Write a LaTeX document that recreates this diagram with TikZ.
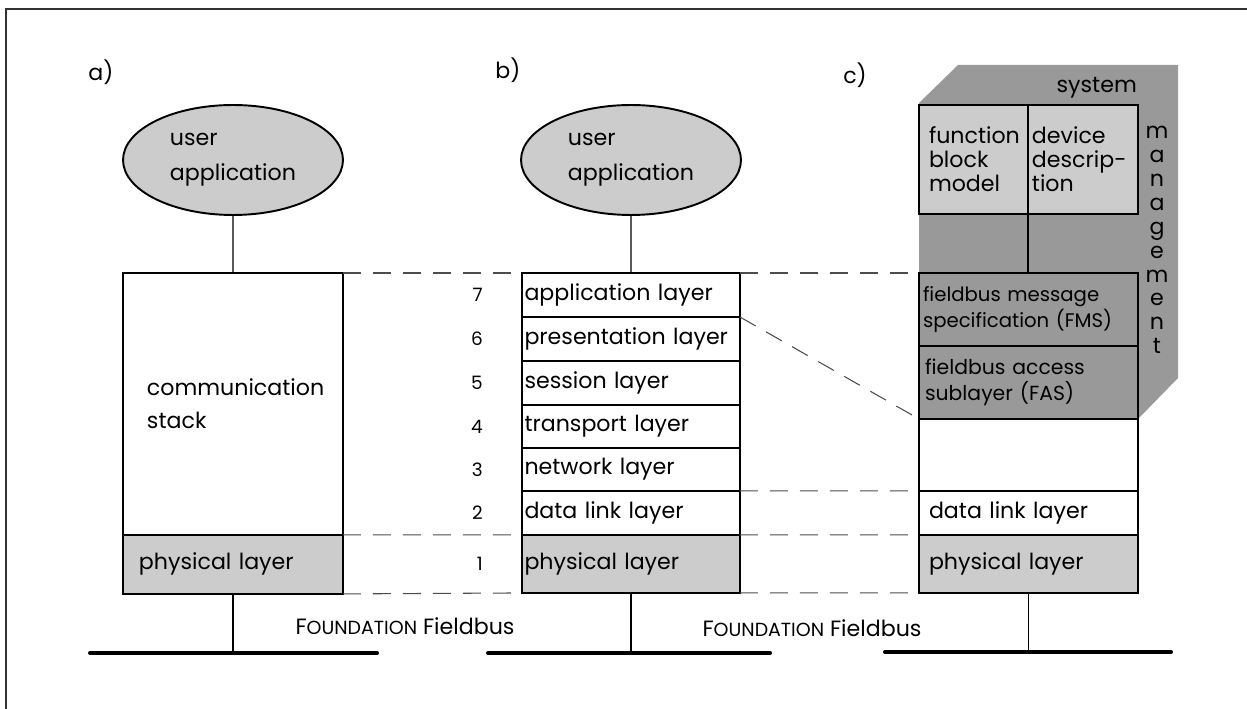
\documentclass[tikz,border=0pt]{standalone}
\usepackage{fontspec}
\setmainfont{Poppins}
\usetikzlibrary{positioning}
\usetikzlibrary{shapes.geometric}

\definecolor{lightfill}{HTML}{CCCCCC}
\definecolor{darkfill}{HTML}{999999}
\newcommand{\fdsc}[1]{{\fontsize{10.8}{12}\selectfont #1}}

\begin{document}
\begin{tikzpicture}[x=0.02cm,y=-0.02cm,
  every node/.style={font=\fontsize{12.6}{13.6}\selectfont},
  layer/.style={draw, line width=1.1pt, outer sep=0pt, inner ysep=0pt, align=left},
  rowb/.style={layer, inner xsep=0.05cm, text width=4.26cm, minimum height=0.88cm},
  rowc/.style={layer, inner xsep=0.2cm, text width=3.98cm},
  userapp/.style={ellipse, draw, line width=1.1pt, fill=lightfill, minimum width=4.4cm, minimum height=2.2cm, align=left, font=\fontsize{12.6}{20}\selectfont},
  num/.style={font=\fontsize{10.5}{12}\selectfont},
  wire/.style={line width=0.6pt},
  guide/.style={line width=0.6pt, draw=black!70, dash pattern=on 0.36cm off 0.24cm},
  bus/.style={line width=2.3pt, line cap=round}]
 \useasboundingbox (0,0) rectangle (1247,709);
 \draw[line width=1pt, draw=black!80] (6,709) -- (6,9) -- (1247,9);

 % a)
 \node (la) at (101,72) {a)};
 \node[userapp] (ua) at (233,160) {user\\application};
 \node[layer, anchor=north west, inner xsep=0.48cm, text width=3.44cm, minimum height=5.24cm, font=\fontsize{12.6}{19}\selectfont] (cs) at (123,273) {communication\\stack};
 \node[layer, fill=lightfill, inner xsep=0.32cm, text width=3.76cm, minimum height=1.18cm, below=0pt of cs] (pa) {physical layer};
 \draw[wire] (ua) -- (cs);

 % b)
 \node (lb) at (508,70) {b)};
 \node[userapp] (ub) at (631,160) {user\\application};
 \node[rowb, anchor=north west] (r7) at (522,273) {application layer};
 \node[rowb, below=0pt of r7] (r6) {presentation layer};
 \node[rowb, below=0pt of r6] (r5) {session layer};
 \node[rowb, minimum height=0.86cm, below=0pt of r5] (r4) {transport layer};
 \node[rowb, minimum height=0.86cm, below=0pt of r4] (r3) {network layer};
 \node[rowb, below=0pt of r3] (r2) {data link layer};
 \node[rowb, fill=lightfill, minimum height=1.16cm, below=0pt of r2] (r1) {physical layer};
 \draw[wire] (ub) -- (r7);
 \foreach \n in {1,...,7}
   \node[num, left=0.66cm of r\n.west] (n\n) {\n};

 % c)
 \node (lc) at (855,75) {c)};
 \fill[darkfill] (919,103) -- (958,65) -- (1178,65) -- (1178,378) -- (1138,419) -- (919,419) -- cycle;
 \node[anchor=east] (sys) at (1143,88) {system};
 \node[align=center, inner sep=0pt] (mgmt) at (1157,240) {m\\a\\n\\a\\g\\e\\m\\e\\n\\t};
 \node[layer, fill=lightfill, anchor=north west, inner xsep=0.2cm, text width=1.78cm, minimum height=2.18cm] (fb) at (919,105) {function\\block\\model};
 \node[layer, fill=lightfill, inner xsep=0.08cm, text width=2.04cm, minimum height=2.18cm, right=0pt of fb] (dd) {device\\descrip-\\tion};
 \node[layer, fill=darkfill, anchor=north west, inner xsep=0.08cm, text width=4.22cm, minimum height=1.46cm, font=\fontsize{11.2}{14.7}\selectfont] (fms) at (919,273) {fieldbus message\\specification (FMS)};
 \node[layer, fill=darkfill, inner xsep=0.12cm, text width=4.14cm, minimum height=1.46cm, font=\fontsize{11.6}{14.7}\selectfont, below=0pt of fms] (fas) {fieldbus access\\sublayer (FAS)};
 \node[rowc, fill=white, minimum height=1.44cm, below=0pt of fas] (blank) {};
 \node[rowc, minimum height=0.88cm, below=0pt of blank] (dl) {data link layer};
 \node[rowc, fill=lightfill, minimum height=1.16cm, below=0pt of dl] (pc) {physical layer};
 \draw[wire] (fb.south east) -- (fb.south east |- fms.north);

 % layer correspondence
 \draw[guide] (cs.north east) -- (r7.north west);
 \draw[guide] (pa.north east) -- (r1.north west);
 \draw[guide] (pa.south east) -- (r1.south west);
 \draw[guide] (r7.north east) -- (fms.north west);
 \draw[guide] (r6.north east) -- (fas.south west);
 \draw[guide] (r3.south east) -- (dl.north west);
 \draw[guide] (r1.north east) -- (pc.north west);
 \draw[guide] (r1.south east) -- (pc.south west);

 % bus
 \coordinate (bsa1) at (90,653);  \coordinate (bsa2) at (377,653);
 \coordinate (bsb1) at (488,653); \coordinate (bsb2) at (770,653);
 \coordinate (bsc1) at (885,652); \coordinate (bsc2) at (1171,652);
 \draw[bus] (bsa1) -- (bsa2);
 \draw[bus] (bsb1) -- (bsb2);
 \draw[bus] (bsc1) -- (bsc2);
 \draw[wire] (pa.south) -- (pa.south |- bsa1);
 \draw[wire] (r1.south) -- (r1.south |- bsb1);
 \draw[wire] (pc.south) -- (pc.south |- bsc1);
 \node (ffa) at (405,626) {F\fdsc{OUNDATION} Fieldbus};
 \node (ffb) at (812,628) {F\fdsc{OUNDATION} Fieldbus};
\end{tikzpicture}
\end{document}
